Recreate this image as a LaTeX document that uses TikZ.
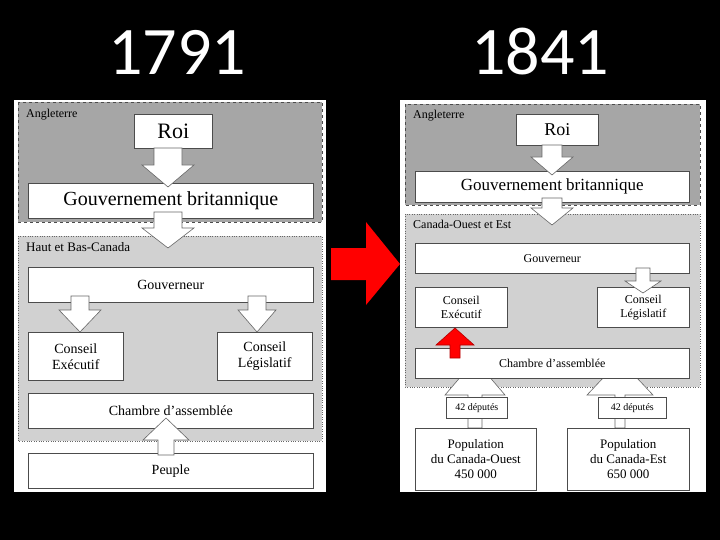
\documentclass[tikz,border=0pt]{standalone}
\usepackage{fontspec}
\setmainfont{Liberation Serif}
\newfontfamily\titlefont{Carlito}
\newcommand\blockarrow[7][arr]{\draw[#1] (#2-#6,#3) -- (#2-#6,#4) -- (#2-#7,#4) -- (#2,#5) -- (#2+#7,#4) -- (#2+#6,#4) -- (#2+#6,#3) -- cycle;}
\begin{document}
\begin{tikzpicture}[x=1pt,y=-1pt,
 box/.style={draw=black!70,fill=white,line width=0.6pt,anchor=north west,inner sep=0pt,align=center,font=\fontsize{14}{16}\selectfont},
 arr/.style={draw=black!60,fill=white,line width=0.6pt},
 redarr/.style={draw=red!70!black,fill=red,line width=0.6pt},
 lab/.style={anchor=north west,inner sep=0pt,font=\fontsize{12}{13}\selectfont}]
\fill[black] (0,0) rectangle (720,540);
\useasboundingbox (0,0) rectangle (720,540);
\node[text=white,font=\titlefont\fontsize{68}{68}\selectfont] (t1) at (177,52) {1791};
\node[text=white,font=\titlefont\fontsize{68}{68}\selectfont] (t2) at (540,52) {1841};
% ---------- left panel
\fill[white] (14,100) rectangle (326,492);
\draw[dashed,draw=black!70,fill=black!35] (18,102) rectangle (322,222);
\draw[dotted,draw=black!60,fill=black!18] (18,236) rectangle (322,441);
\node[lab] (lA) at (26,109) {Angleterre};
\node[lab,font=\fontsize{13}{14}\selectfont] (lH) at (26,242) {Haut et Bas-Canada};
\node[box,minimum width=78pt,minimum height=34pt,font=\fontsize{22}{24}\selectfont] (roiL) at (134,114) {Roi};
\node[box,minimum width=285pt,minimum height=35pt,font=\fontsize{20}{22}\selectfont] (govL) at (28,183) {Gouvernement britannique};
\node[box,minimum width=285pt,minimum height=35pt] (gouvL) at (28,267) {Gouverneur};
\node[box,minimum width=95pt,minimum height=48pt] (exL) at (28,332) {Conseil\\Exécutif};
\node[box,minimum width=95pt,minimum height=48pt] (legL) at (217,332) {Conseil\\Législatif};
\node[box,minimum width=285pt,minimum height=35pt] (chL) at (28,393) {Chambre d’assemblée};
\node[box,minimum width=285pt,minimum height=35pt] (peL) at (28,453) {Peuple};
\blockarrow{168}{148}{165}{187}{14}{26}
\blockarrow{168}{212}{228}{248}{14}{26}
\blockarrow{80}{296}{310}{332}{9}{21}
\blockarrow{257}{296}{310}{332}{9}{19}
\blockarrow{166}{455}{440}{418}{8}{23}
% ---------- right panel
\fill[white] (400,100) rectangle (706,492);
\draw[dashed,draw=black!70,fill=black!35] (405,104) rectangle (700,205);
\draw[dotted,draw=black!60,fill=black!18] (405,214) rectangle (700,387);
\node[lab] (rA) at (413,110) {Angleterre};
\node[lab] (rC) at (413,220) {Canada-Ouest et Est};
\node[box,minimum width=82pt,minimum height=31pt,font=\fontsize{18}{20}\selectfont] (roiR) at (516,114) {Roi};
\node[box,minimum width=274pt,minimum height=31pt,font=\fontsize{17}{19}\selectfont] (govR) at (415,171) {Gouvernement britannique};
\node[box,minimum width=274pt,minimum height=30pt,font=\fontsize{12}{13}\selectfont] (gouvR) at (415,243) {Gouverneur};
\node[box,minimum width=92pt,minimum height=40pt,font=\fontsize{12}{14}\selectfont] (exR) at (415,287) {Conseil\\Exécutif};
\node[box,minimum width=92pt,minimum height=40pt,font=\fontsize{12}{14}\selectfont] (legR) at (597,287) {Conseil\\Législatif};
\blockarrow{475}{428}{395}{360}{7}{30}
\blockarrow{620}{428}{395}{360}{5}{33}
\node[box,minimum width=274pt,minimum height=30pt,font=\fontsize{12}{13}\selectfont] (chR) at (415,348) {Chambre d’assemblée};
\node[box,minimum width=61pt,minimum height=21pt,font=\fontsize{10}{11}\selectfont] (d1) at (446,397) {42 députés};
\node[box,minimum width=68pt,minimum height=21pt,font=\fontsize{10}{11}\selectfont] (d2) at (598,397) {42 députés};
\node[box,minimum width=121pt,minimum height=62pt,font=\fontsize{13}{15}\selectfont] (popO) at (415,428) {Population\\du Canada-Ouest\\450 000};
\node[box,minimum width=122pt,minimum height=62pt,font=\fontsize{13}{15}\selectfont] (popE) at (567,428) {Population\\du Canada-Est\\650 000};
\blockarrow{552}{145}{157}{175}{10}{21}
\blockarrow{552}{198}{208}{225}{10}{21}
\blockarrow{643}{268}{281}{293}{7}{18}
\blockarrow[redarr]{455}{358}{345}{328}{5}{19}
% big red arrow
\fill[red] (331,248) -- (366,248) -- (366,222) -- (400,264) -- (366,305) -- (366,280) -- (331,280) -- cycle;
\end{tikzpicture}
\end{document}
